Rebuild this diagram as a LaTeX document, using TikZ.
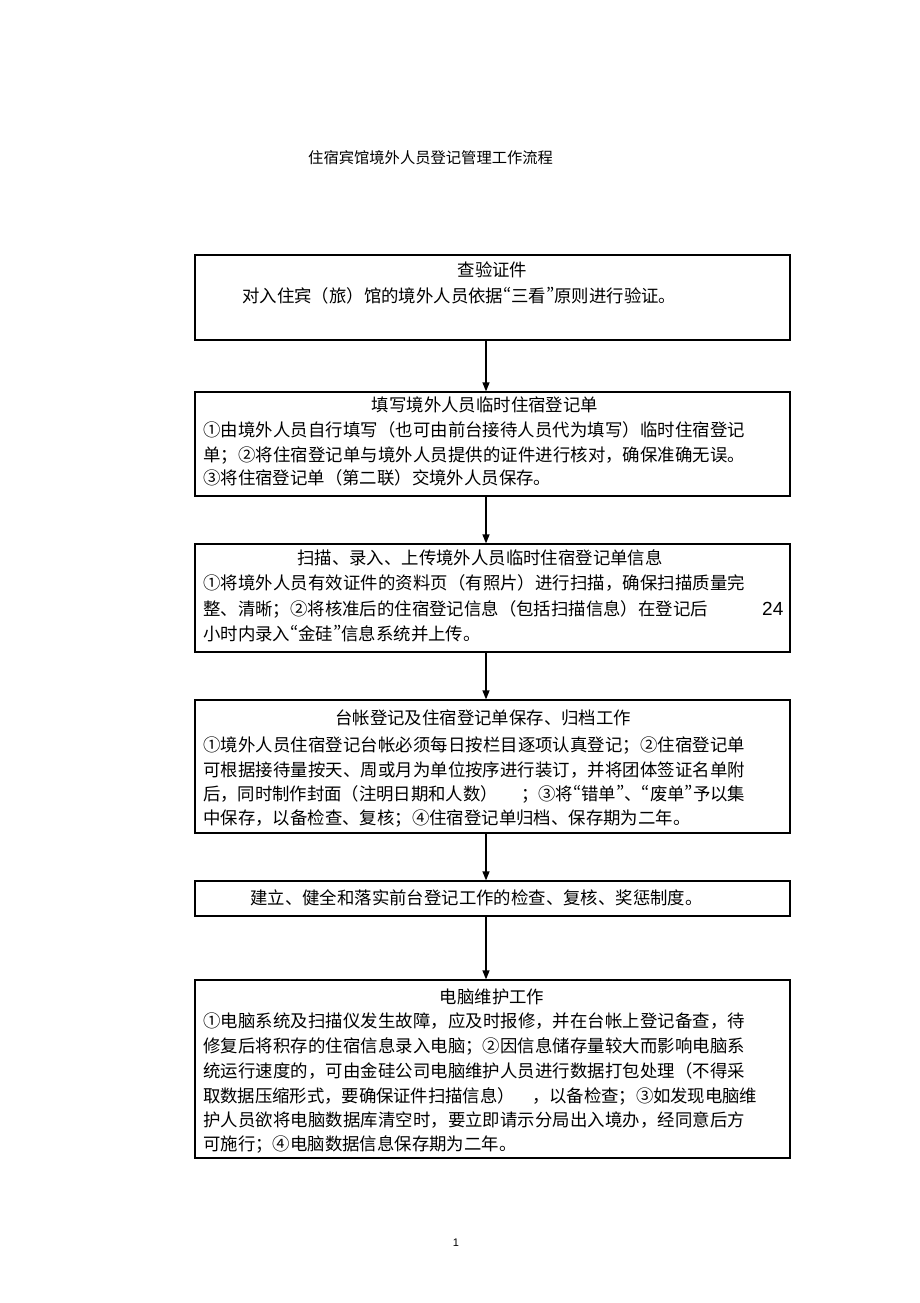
\documentclass[tikz,border=0pt]{standalone}
\usepackage{fontspec}
\setmainfont{Noto Sans CJK SC}
\newfontfamily\latinsans{Liberation Sans}
\newfontfamily\pwq[RawFeature=+pwid]{Noto Sans CJK SC}
\newcommand\oq{{\pwq “}}
\newcommand\cq{{\pwq ”}}
\usetikzlibrary{arrows.meta}
\XeTeXlinebreaklocale "zh"
\XeTeXlinebreakskip=0pt plus 3pt minus 1pt
\XeTeXlinebreakpenalty=10000
\newcommand\fullline[2][542pt]{\parbox[b]{#1}{\parfillskip=0pt\relax #2}}
\begin{document}
\begin{tikzpicture}[x=1pt,y=-1pt,
  box/.style={draw=black,line width=1.2pt,minimum width=595pt,inner sep=0pt},
  txt/.style={anchor=base west,inner sep=0pt,font=\fontsize{17.4}{20}\selectfont},
  ctr/.style={anchor=base,inner sep=0pt,font=\fontsize{17.4}{20}\selectfont},
  flow/.style={line width=1.2pt,-{Triangle[length=9pt,width=7pt]}}]
\path[use as bounding box,fill=white] (0,0) rectangle (920,1303);

\node[anchor=base west,inner sep=0pt,font=\fontsize{15.3}{18}\selectfont] (title) at (308,163) {住宿宾馆境外人员登记管理工作流程};

% boxes
\node[box,minimum height=85pt]  (b1) at (492.5,297.5) {};
\node[box,minimum height=104pt] (b2) at (492.5,444) {};
\node[box,minimum height=108pt] (b3) at (492.5,598) {};
\node[box,minimum height=133pt] (b4) at (492.5,766.5) {};
\node[box,minimum height=35pt]  (b5) at (492.5,898.5) {};
\node[box,minimum height=178pt] (b6) at (492.5,1069) {};

% box 1
\node[ctr] (t1) at (492.5,276.5) {查验证件};
\node[txt] (t1a) at (242,302.5) {对入住宾（旅）馆的境外人员依据\oq 三看\cq 原则进行验证。};

% box 2
\node[ctr] (t2) at (485,411.5) {填写境外人员临时住宿登记单};
\node[txt] (t2a) at (203,436.5) {\fullline{①由境外人员自行填写（也可由前台接待人员代为填写）临时住宿登记}};
\node[txt] (t2b) at (203,461.5) {\fullline{单；②将住宿登记单与境外人员提供的证件进行核对，确保准确无误。}};
\node[txt] (t2c) at (203,484.5) {③将住宿登记单（第二联）交境外人员保存。};

% box 3
\node[txt] (t3) at (297,564.5) {扫描、录入、上传境外人员临时住宿登记单信息};
\node[txt] (t3a) at (203,589.5) {\fullline{①将境外人员有效证件的资料页（有照片）进行扫描，确保扫描质量完}};
\node[txt] (t3b) at (203,615.5) {整、清晰；②将核准后的住宿登记信息（包括扫描信息）在登记后};
\node[anchor=base west,inner sep=0pt,font=\latinsans\fontsize{19}{22}\selectfont] (t3n) at (762,615.5) {24};
\node[txt] (t3c) at (203,640.5) {小时内录入\oq 金硅\cq 信息系统并上传。};

% box 4
\node[txt] (t4) at (335,724.5) {台帐登记及住宿登记单保存、归档工作};
\node[txt] (t4a) at (203,751.5) {\fullline{①境外人员住宿登记台帐必须每日按栏目逐项认真登记；②住宿登记单}};
\node[txt] (t4b) at (203,776.5) {\fullline{可根据接待量按天、周或月为单位按序进行装订，并将团体签证名单附}};
\node[txt] (t4c) at (203,800.5) {\fullline{后，同时制作封面（注明日期和人数）\hspace{24pt minus 6pt}；③将\oq 错单\cq 、\oq 废单\cq 予以集}};
\node[txt] (t4d) at (203,824.5) {中保存，以备检查、复核；④住宿登记单归档、保存期为二年。};

% box 5
\node[txt] (t5) at (250,904.5) {建立、健全和落实前台登记工作的检查、复核、奖惩制度。};

% box 6
\node[ctr] (t6) at (492,1003.5) {电脑维护工作};
\node[txt] (t6a) at (203,1027.5) {\fullline{①电脑系统及扫描仪发生故障，应及时报修，并在台帐上登记备查，待}};
\node[txt] (t6b) at (203,1052.5) {\fullline{修复后将积存的住宿信息录入电脑；②因信息储存量较大而影响电脑系}};
\node[txt] (t6c) at (203,1077.5) {\fullline{统运行速度的，可由金硅公司电脑维护人员进行数据打包处理（不得采}};
\node[txt] (t6d) at (203,1102.5) {\fullline[554pt]{取数据压缩形式，要确保证件扫描信息）\hspace{18pt minus 8pt}，以备检查；③如发现电脑维}};
\node[txt] (t6e) at (203,1126.5) {\fullline{护人员欲将电脑数据库清空时，要立即请示分局出入境办，经同意后方}};
\node[txt] (t6f) at (203,1150.5) {可施行；④电脑数据信息保存期为二年。};

% page number
\node[inner sep=0pt,font=\latinsans\fontsize{11}{13}\selectfont] (pg) at (456,1243) {1};

% connectors
\coordinate (ax) at (486,0);
\draw[flow] (b1.south -| ax) -- (b2.north -| ax);
\draw[flow] (b2.south -| ax) -- (b3.north -| ax);
\draw[flow] (b3.south -| ax) -- (b4.north -| ax);
\draw[flow] (b4.south -| ax) -- (b5.north -| ax);
\draw[flow] (b5.south -| ax) -- (b6.north -| ax);
\end{tikzpicture}
\end{document}
